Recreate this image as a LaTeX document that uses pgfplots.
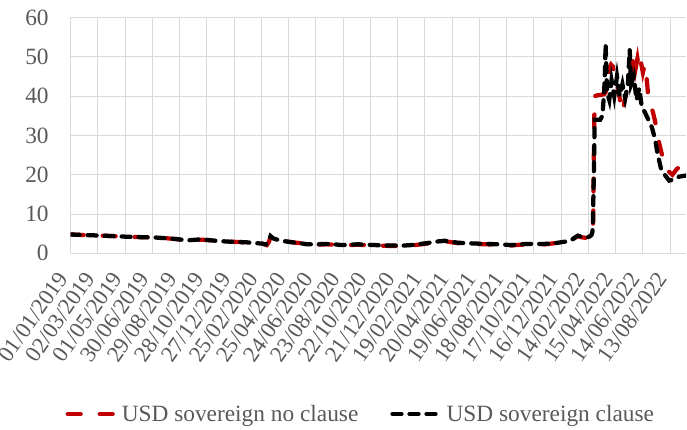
\documentclass[border=0pt]{standalone}
\usepackage{fontspec}
\setmainfont{Liberation Serif}
\usepackage{pgfplots}
\pgfplotsset{compat=1.18}
\usetikzlibrary{calc}
\definecolor{darkred}{HTML}{C00000}
\definecolor{txtgray}{HTML}{595959}
\definecolor{gridgray}{HTML}{D9D9D9}
\begin{document}
\begin{tikzpicture}
\begin{axis}[
  name=ax,
  scale only axis,
  width=461.5pt, height=176.9pt,
  xmin=0, xmax=1355, ymin=0, ymax=60,
  ytick={0,10,...,60},
  xtick={0,60,...,1320},
  xticklabels={01/01/2019,02/03/2019,01/05/2019,30/06/2019,29/08/2019,28/10/2019,27/12/2019,25/02/2020,25/04/2020,24/06/2020,23/08/2020,22/10/2020,21/12/2020,19/02/2021,20/04/2021,19/06/2021,18/08/2021,17/10/2021,16/12/2021,14/02/2022,15/04/2022,14/06/2022,13/08/2022},
  grid=major,
  major grid style={gridgray, line width=0.75pt},
  axis lines*=left,
  axis line style={gridgray, line width=0.75pt},
  tick style={draw=none},
  /pgf/number format/assume math mode=true,
  yticklabel style={font=\fontsize{17.5}{20}\selectfont, text=txtgray, xshift=-13pt},
  xticklabel style={font=\fontsize{17}{20}\selectfont, text=txtgray, xshift=-4pt, yshift=-13pt, rotate=55, anchor=east},
  legend style={at={(0.472,-0.6815)}, anchor=center, draw=none, fill=none,
    legend columns=2, font=\fontsize{17.5}{20}\selectfont, text=txtgray,
    /tikz/every even column/.append style={column sep=22pt}},
  legend image code/.code={\draw[#1] (0pt,0pt) -- (37pt,0pt);},
]
\addplot[darkred, line width=3.2pt, line cap=round, dash pattern=on 9.75pt off 14.25pt] coordinates {
(0,4.8)(20,4.7)(45,4.6)(70,4.5)(90,4.4)(110,4.3)(130,4.2)(160,4.1)(190,4.0)(215,3.8)(235,3.6)(256,3.3)(280,3.5)(300,3.4)(320,3.2)(344,3.0)(365,2.9)(388,2.8)(405,2.6)(420,2.5)(432,2.1)(437,3.0)(440,4.3)(446,3.8)(454,3.5)(470,3.1)(489,2.8)(505,2.6)(520,2.3)(540,2.2)(564,2.3)(580,2.2)(597,2.0)(615,2.1)(633,2.2)(650,2.1)(670,2.0)(700,1.9)(729,1.9)(750,2.0)(765,2.2)(785,2.5)(802,2.8)(815,3.0)(824,3.1)(840,2.8)(853,2.6)(870,2.5)(890,2.4)(915,2.3)(941,2.2)(955,2.1)(971,2.0)(990,2.2)(1007,2.3)(1025,2.3)(1044,2.3)(1060,2.5)(1073,2.7)(1090,3.0)(1103,3.4)(1110,3.9)(1117,4.4)(1125,4.1)(1136,3.9)(1143,4.2)
(1147,4.6)(1150,5)(1151,12)(1152,24)(1153,34)(1154,40)(1160,40.2)(1168,40.3)(1175,40.5)(1178,41)(1182,44)(1186,47)(1190,48)(1194,47.5)(1198,45)(1202,44)(1206,41)(1209,39.5)(1212,36.5)(1216,36)(1220,39)(1224,41)(1228,43)(1232,45)(1236,48)(1240,50.5)(1244,47)(1248,49.5)(1252,46.5)(1256,48.5)(1260,46)(1264,48)(1268,45)(1271,41)(1276,38)(1282,36)(1288,33)(1294,29)(1300,26)(1306,23.5)(1315,21)(1325,20)(1335,21.5)(1342,22)(1350,21)(1355,20.5)
};
\addlegendentry{USD sovereign no clause}
\addplot[black, line width=3.2pt, line cap=round, dash pattern=on 6.75pt off 6pt] coordinates {
(0,4.8)(20,4.7)(45,4.6)(70,4.5)(90,4.4)(110,4.3)(130,4.2)(160,4.1)(190,4.0)(215,3.8)(235,3.6)(256,3.3)(280,3.5)(300,3.4)(320,3.2)(344,3.0)(365,2.9)(388,2.8)(405,2.6)(420,2.5)(430,2.3)(436,3.2)(440,4.4)(446,3.8)(454,3.5)(470,3.1)(489,2.8)(505,2.6)(520,2.3)(540,2.3)(564,2.4)(580,2.3)(597,2.1)(615,2.2)(633,2.3)(650,2.2)(670,2.1)(700,2.0)(729,1.95)(750,2.1)(765,2.3)(785,2.6)(802,2.95)(815,3.1)(824,3.2)(840,2.9)(853,2.7)(870,2.6)(890,2.5)(915,2.4)(941,2.3)(955,2.2)(971,2.1)(990,2.3)(1007,2.4)(1025,2.4)(1044,2.4)(1060,2.5)(1073,2.7)(1090,3.0)(1103,3.4)(1110,4.0)(1117,4.5)(1125,4.2)(1136,4.0)(1143,4.3)
(1147,4.7)(1149,5.5)(1150,8)(1152,20)(1154,34)(1160,34)(1166,34)(1171,35)(1174,40)(1176,44)(1178,53.3)(1181,41)(1186,39)(1191,44)(1197,40)(1203,45)(1209,40)(1215,43)(1221,39.5)(1227,43)(1231,51.7)(1234,43)(1240,45)(1246,39)(1252,42)(1258,37)(1264,36)(1272,34)(1280,32)(1287,29)(1292,25.5)(1300,21.5)(1308,20)(1318,18.5)(1328,18.8)(1340,19.5)(1355,19.8)
};
\addlegendentry{USD sovereign clause}
\end{axis}
\pgfresetboundingbox
\path ($(ax.south west)+(-53pt,-131.8pt)$) rectangle ($(ax.north east)+(0.75pt,13.1pt)$);
\end{tikzpicture}
\end{document}
